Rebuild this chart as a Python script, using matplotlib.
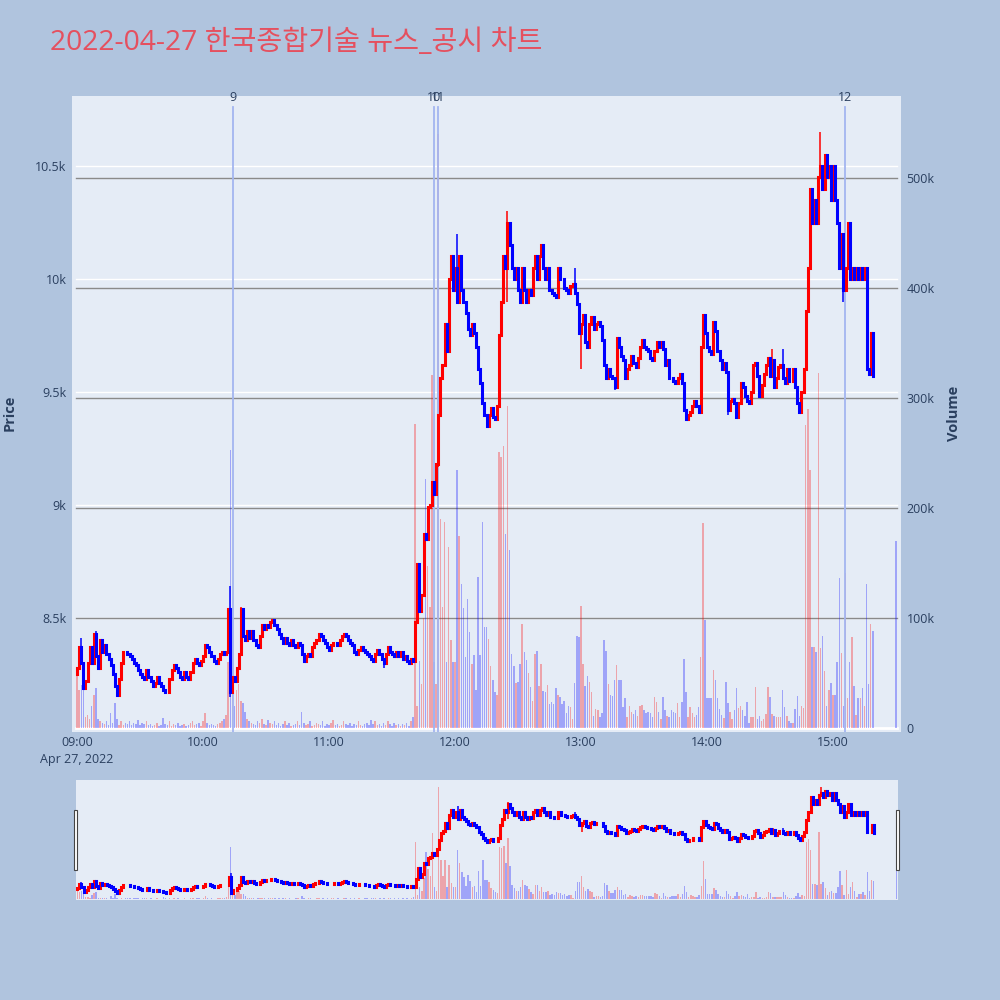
import matplotlib
matplotlib.use("Agg")
import matplotlib.pyplot as plt
from matplotlib.patches import Rectangle
from matplotlib.transforms import blended_transform_factory
import numpy as np

plt.rcParams["font.family"] = ["Open Sans", "Noto Sans CJK KR", "DejaVu Sans"]

title = "2022-04-27 한국종합기술 뉴스_공시 차트"

# minute closes from 09:00 (index = minutes after 09:00)
first_open = 8250
close = [
    8280, 8370, 8300, 8190, 8220, 8300, 8370, 8300, 8430, 8330,
    8280, 8400, 8350, 8380, 8340, 8320, 8290, 8250, 8200, 8160,
    8230, 8300, 8350, 8350, 8340, 8330, 8320, 8300, 8290, 8270,
    8250, 8240, 8230, 8270, 8240, 8220, 8200, 8210, 8240, 8210,
    8200, 8180, 8170, 8170, 8230, 8270, 8290, 8280, 8260, 8240,
    8230, 8260, 8240, 8230, 8260, 8300, 8320, 8300, 8290, 8310,
    # 10:00
    8330, 8380, 8370, 8350, 8330, 8310, 8300, 8320, 8340, 8350,
    8340, 8350, 8540, 8170, 8240, 8220, 8280, 8340, 8540, 8420,
    8400, 8440, 8410, 8440, 8400, 8380, 8370, 8420, 8470, 8450,
    8470, 8460, 8480, 8490, 8470, 8450, 8430, 8410, 8390, 8410,
    8390, 8380, 8400, 8380, 8370, 8390, 8380, 8340, 8310, 8330,
    8340, 8330, 8370, 8390, 8400, 8430, 8420, 8400, 8390, 8370,
    # 11:00
    8360, 8380, 8390, 8390, 8380, 8400, 8420, 8430, 8420, 8400,
    8390, 8380, 8350, 8340, 8360, 8370, 8360, 8350, 8340, 8330,
    8320, 8310, 8340, 8360, 8340, 8320, 8300, 8340, 8370, 8350,
    8340, 8330, 8350, 8330, 8350, 8320, 8330, 8310, 8300, 8320,
    8310, 8480, 8740, 8530, 8600, 8870, 8850, 8990, 9000, 9100,
    9050, 9180, 9400, 9560, 9620, 9800, 9680, 10000, 10100, 9950,
    # 12:00
    10050, 9900, 10100, 9950, 9900, 9850, 9780, 9750, 9800, 9760,
    9700, 9600, 9540, 9450, 9400, 9350, 9400, 9430, 9390, 9380,
    9440, 9750, 9900, 10100, 10050, 10250, 10150, 10050, 10000, 10050,
    9950, 9900, 10050, 9950, 9900, 9950, 9930, 10050, 10100, 10000,
    10100, 10150, 10050, 10000, 10050, 9950, 9940, 9930, 9920, 10050,
    10000, 10000, 9960, 9950, 9940, 9970, 9980, 9940, 9890, 9760,
    # 13:00
    9800, 9840, 9720, 9700, 9800, 9830, 9780, 9800, 9810, 9790,
    9730, 9620, 9560, 9600, 9570, 9560, 9520, 9740, 9700, 9660,
    9640, 9560, 9600, 9620, 9660, 9630, 9610, 9650, 9700, 9730,
    9700, 9690, 9680, 9650, 9640, 9680, 9720, 9700, 9720, 9690,
    9620, 9640, 9560, 9560, 9550, 9540, 9560, 9580, 9540, 9420,
    9380, 9400, 9410, 9440, 9460, 9440, 9410, 9700, 9840, 9760,
    # 14:00
    9700, 9680, 9670, 9810, 9770, 9680, 9640, 9600, 9630, 9590,
    9420, 9460, 9470, 9450, 9390, 9450, 9540, 9520, 9480, 9460,
    9450, 9500, 9620, 9630, 9570, 9480, 9530, 9580, 9620, 9650,
    9570, 9640, 9520, 9560, 9610, 9620, 9560, 9540, 9600, 9550,
    9550, 9600, 9520, 9450, 9410, 9500, 9600, 9860, 10050, 10400,
    10250, 10350, 10250, 10450, 10500, 10400, 10550, 10450, 10500, 10350,
    # 15:00
    10500, 10350, 10250, 10050, 10200, 9950, 10050, 10250, 10000, 10050,
    10000, 10050, 10000, 10050, 10000, 10050, 9600, 9580, 9760, 9570,
]
high_extra = {2: 8410, 9: 8440, 73: 8640, 78: 8550, 181: 10200, 205: 10300,
              206: 10250, 237: 10050, 331: 9690, 336: 9690, 349: 10400, 354: 10650}
low_extra = {3: 8180, 19: 8150, 73: 8150, 146: 8280, 172: 9170, 205: 9900,
             240: 9600, 256: 9510, 310: 9400, 314: 9380, 364: 10050, 365: 9900}

# volume per minute, thousands of shares
volume_k = [
    48, 35, 39, 44, 10, 12, 8, 20, 30, 36,
    8, 6, 5, 4, 6, 3, 14, 5, 23, 8,
    3, 6, 3, 5, 4, 6, 3, 5, 4, 7,
    3, 5, 4, 6, 3, 4, 2, 3, 5, 2,
    3, 9, 4, 3, 6, 2, 4, 3, 5, 2,
    3, 4, 2, 3, 5, 6, 3, 4, 5, 2,
    6, 14, 5, 3, 4, 3, 2, 4, 5, 6,
    8, 12, 60, 253, 45, 20, 35, 40, 25, 23,
    15, 8, 6, 5, 4, 3, 6, 5, 8, 4,
    3, 7, 5, 4, 6, 3, 5, 2, 4, 6,
    3, 5, 2, 3, 4, 6, 3, 15, 5, 3,
    4, 6, 2, 3, 5, 4, 3, 6, 2, 4,
    3, 5, 7, 3, 4, 2, 3, 6, 4, 3,
    5, 2, 4, 3, 6, 3, 2, 4, 5, 3,
    7, 4, 6, 3, 4, 2, 5, 3, 6, 4,
    2, 5, 3, 4, 2, 4, 3, 5, 2, 6,
    10, 276, 20, 61, 40, 100, 226, 147, 110, 321,
    60, 40, 540, 190, 110, 187, 60, 165, 80, 60,
    60, 235, 175, 131, 109, 65, 117, 87, 58, 66,
    35, 137, 66, 187, 92, 92, 81, 56, 44, 33,
    30, 251, 246, 256, 176, 293, 162, 67, 56, 41,
    42, 58, 95, 69, 62, 50, 37, 25, 67, 70,
    38, 58, 34, 33, 39, 22, 24, 22, 36, 30,
    28, 22, 25, 14, 20, 19, 8, 41, 84, 83,
    111, 58, 38, 47, 42, 33, 11, 17, 16, 10,
    14, 80, 70, 40, 30, 29, 44, 57, 44, 44,
    19, 27, 10, 20, 15, 13, 16, 11, 20, 21,
    16, 14, 15, 14, 10, 28, 24, 15, 8, 28,
    16, 11, 10, 16, 15, 14, 23, 10, 24, 63,
    33, 10, 19, 14, 10, 12, 19, 65, 186, 98,
    27, 27, 27, 53, 44, 27, 17, 12, 9, 42,
    23, 15, 8, 16, 36, 18, 20, 16, 11, 24,
    5, 10, 10, 37, 8, 11, 6, 8, 13, 37,
    28, 13, 11, 10, 10, 10, 35, 19, 11, 6,
    5, 5, 17, 29, 11, 20, 18, 275, 290, 235,
    74, 74, 69, 323, 73, 84, 52, 20, 35, 41,
    30, 30, 60, 136, 68, 20, 141, 27, 60, 83,
    38, 12, 27, 27, 36, 20, 131, 40, 95, 88,
]

# closing auction at 15:30
auction_minute = 390
auction_price = 9410
auction_volume_k = 170

# news / disclosure markers (minutes after 09:00)
news_minutes = [74.3, 170.0, 172.0, 365.7]
news_labels = ["9", "10", "11", "12"]

RED = "#ff0000"
BLUE = "#0000ff"
BG = "#b0c4de"
PLOT_BG = "#e5ecf6"
TXT = "#2a3f5f"

n = min(len(close), len(volume_k))
c = np.array(close[:n], dtype=float)
o = np.array([first_open] + close[:n - 1], dtype=float)
h = np.array([max(o[i], c[i], high_extra.get(i, 0)) for i in range(n)])
l = np.array([min(o[i], c[i], low_extra.get(i, 1e9)) for i in range(n)])
mins = np.arange(n)
up = c > o

# append auction print
x_all = np.append(mins, auction_minute)
o_all = np.append(o, auction_price)
c_all = np.append(c, auction_price)
h_all = np.append(h, auction_price)
l_all = np.append(l, auction_price)
up_all = np.append(up, False)
vol = np.append(np.array(volume_k[:n], dtype=float), auction_volume_k) * 1000

PRICE_LIM = (7995, 10810)
VOL_LIM = (-3600, 574500)


def draw_candles(ax, body_lw, wick_lw):
    for mask, col in ((up_all, RED), (~up_all, BLUE)):
        ax.vlines(x_all[mask], l_all[mask], h_all[mask], color=col, lw=wick_lw, zorder=3)
        bodies = ax.vlines(x_all[mask], np.minimum(o_all, c_all)[mask],
                           np.maximum(o_all, c_all)[mask], color=col, lw=body_lw, zorder=4)
        bodies.set_capstyle("projecting")


def draw_volume(ax, width):
    cols = np.where(up_all, RED, BLUE)
    ax.bar(x_all, vol, width=width, color=cols, alpha=0.3, linewidth=0, zorder=2)


fig = plt.figure(figsize=(10, 10), dpi=100, facecolor=BG)

# main panel: volume axis underneath, price axis on top
ax_vol = fig.add_axes([0.072, 0.268, 0.829, 0.636])
ax_vol.set_facecolor(PLOT_BG)
ax_price = ax_vol.twinx()

ax_vol.set_xlim(-2.4, 392.4)
ax_vol.set_ylim(*VOL_LIM)
ax_price.set_ylim(*PRICE_LIM)

price_ticks = [8500, 9000, 9500, 10000, 10500]
vol_ticks = [0, 100000, 200000, 300000, 400000, 500000]

tr_price = blended_transform_factory(ax_vol.transAxes, ax_price.transData)
tr_vol = blended_transform_factory(ax_vol.transAxes, ax_vol.transData)
for p in price_ticks:
    ax_vol.plot([0.005, 0.995], [p, p], color="white", lw=1, transform=tr_price, zorder=0.6)
for v in vol_ticks[1:]:
    ax_vol.plot([0.005, 0.995], [v, v], color="#8a8a8a", lw=1, transform=tr_vol, zorder=0.7)
ax_vol.plot([0.005, 0.995], [0, 0], color="white", lw=2, transform=tr_vol, zorder=0.8)

draw_volume(ax_vol, 0.7)
draw_candles(ax_price, 2.2, 1.1)

for m, lab in zip(news_minutes, news_labels):
    ax_vol.plot([m, m], [0, 0.983], color="#a3b5f0", lw=1.3,
                transform=blended_transform_factory(ax_vol.transData, ax_vol.transAxes), zorder=2.5)
    ax_vol.text(m, 0.988, lab, ha="center", va="bottom", fontsize=9, color=TXT,
                transform=blended_transform_factory(ax_vol.transData, ax_vol.transAxes))

ax_price.set_yticks(price_ticks)
ax_price.set_yticklabels(["8.5k", "9k", "9.5k", "10k", "10.5k"])
ax_price.yaxis.tick_left()
ax_vol.set_yticks(vol_ticks)
ax_vol.set_yticklabels(["0", "100k", "200k", "300k", "400k", "500k"])
ax_vol.yaxis.tick_right()

hour_ticks = [0, 60, 120, 180, 240, 300, 360]
ax_vol.set_xticks(hour_ticks)
ax_vol.set_xticklabels(["09:00\nApr 27, 2022", "10:00", "11:00", "12:00",
                        "13:00", "14:00", "15:00"], linespacing=1.35)
for lbl in ax_vol.get_xticklabels():
    lbl.set_verticalalignment("top")

ax_vol.tick_params(axis="x", length=0, pad=3, labelsize=9, labelcolor=TXT)
ax_vol.tick_params(axis="y", length=0, pad=4, labelsize=9, labelcolor=TXT)
ax_price.tick_params(axis="y", length=0, pad=4, labelsize=9, labelcolor=TXT)
for a in (ax_vol, ax_price):
    for s in a.spines.values():
        s.set_visible(False)

fig.text(0.05, 0.957, title, fontsize=20.3, color="#e5505f", va="center", ha="left")
fig.text(0.010, 0.587, "Price", rotation=90, fontsize=10.5, fontweight="bold",
         color=TXT, va="center", ha="center")
fig.text(0.954, 0.587, "Volume", rotation=90, fontsize=10.5, fontweight="bold",
         color=TXT, va="center", ha="center")

# range slider preview
ax_s = fig.add_axes([0.076, 0.100, 0.822, 0.120])
ax_s.set_facecolor(PLOT_BG)
ax_s2 = ax_s.twinx()
ax_s.set_xlim(-0.6, 390.6)
ax_s.set_ylim(*VOL_LIM)
ax_s2.set_ylim(*PRICE_LIM)
draw_volume(ax_s, 0.7)
draw_candles(ax_s2, 2.2, 1.1)
for a in (ax_s, ax_s2):
    a.set_xticks([])
    a.set_yticks([])
    for s in a.spines.values():
        s.set_visible(False)

for hx in (0.0735, 0.8955):
    fig.add_artist(Rectangle((hx, 0.130), 0.0035, 0.060, transform=fig.transFigure,
                             facecolor="white", edgecolor="#444444", lw=0.8))

fig.savefig("out.png", dpi=100, facecolor=BG)
plt.close(fig)
